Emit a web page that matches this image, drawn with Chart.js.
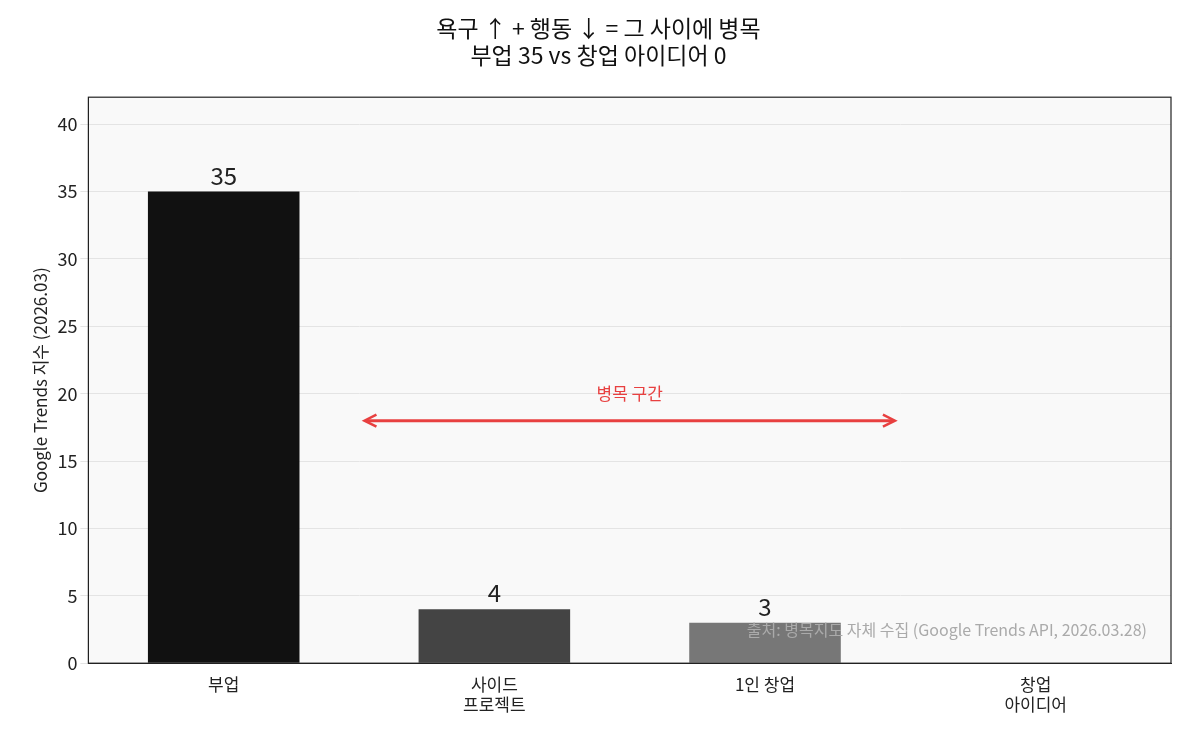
<!DOCTYPE html>
<html><head><meta charset="utf-8">
<script src="https://cdn.jsdelivr.net/npm/chart.js@4"></script>
<style>html,body{margin:0;background:#fff}#w{width:1185px;height:736px}</style>
</head><body><div id="w"><canvas id="c"></canvas></div>
<script>
const categories=[["부업"],["사이드","프로젝트"],["1인 창업"],["창업","아이디어"]];
const values=[35,4,3,0];
const barColors=["#111111","#444444","#777777","#aaaaaa"];
const yTicks=[0,5,10,15,20,25,30,35,40];
const titleLines=["욕구 ↑ + 행동 ↓ = 그 사이에 병목","부업 35 vs 창업 아이디어 0"];
const F="'Noto Sans CJK KR','Noto Sans',sans-serif";
const deco={id:'deco',
beforeDraw(ch){const a=ch.chartArea,c=ch.ctx;c.save();c.fillStyle='#f9f9f9';c.fillRect(a.left,a.top,a.right-a.left,a.bottom-a.top);c.restore();},
afterDatasetsDraw(ch){const c=ch.ctx,x=ch.scales.x,y=ch.scales.y,a=ch.chartArea;c.save();
c.strokeStyle='#222';c.lineWidth=1.2;c.strokeRect(a.left,a.top,a.right-a.left,a.bottom-a.top);
c.font='24px '+F;c.fillStyle='#222';c.textAlign='center';c.textBaseline='bottom';
ch.getDatasetMeta(0).data.forEach((b,i)=>{if(values[i]>0)c.fillText(String(values[i]),b.x,y.getPixelForValue(values[i])-4);});
const x1=x.getPixelForValue(0.52),x2=x.getPixelForValue(2.48),ay=y.getPixelForValue(18);
c.strokeStyle='#e84040';c.fillStyle='#e84040';c.lineWidth=3;c.beginPath();c.moveTo(x1+2,ay);c.lineTo(x2-2,ay);c.stroke();
c.lineWidth=2.5;c.beginPath();c.moveTo(x1+12,ay-6);c.lineTo(x1,ay);c.lineTo(x1+12,ay+6);c.stroke();
c.beginPath();c.moveTo(x2-12,ay-6);c.lineTo(x2,ay);c.lineTo(x2-12,ay+6);c.stroke();
c.font='17px '+F;c.textBaseline='middle';c.fillText('병목 구간',(x1+x2)/2,y.getPixelForValue(20));
c.font='16px '+F;c.fillStyle='#aaaaaa';c.textAlign='right';c.fillText('출처: 병목지도 자체 수집 (Google Trends API, 2026.03.28)',a.right-24,y.getPixelForValue(2.5));
c.restore();}};
new Chart(document.getElementById('c'),{type:'bar',
data:{labels:categories,datasets:[{data:values,backgroundColor:barColors,categoryPercentage:1,barPercentage:0.56}]},
options:{responsive:true,maintainAspectRatio:false,animation:false,
layout:{padding:{left:26,right:14,top:4,bottom:18}},
plugins:{legend:{display:false},tooltip:{enabled:false},
title:{display:true,text:titleLines,font:{family:F,size:23,weight:'normal'},color:'#111',padding:{top:10,bottom:28},lineHeight:1.3}},
scales:{x:{grid:{display:false},border:{color:'#222'},ticks:{color:'#222',font:{family:F,size:17}}},
y:{min:0,max:42,afterBuildTicks:s=>{s.ticks=yTicks.map(v=>({value:v}));},grid:{color:'#e4e4e4'},border:{color:'#222'},
ticks:{color:'#222',font:{family:F,size:18}},
title:{display:true,text:'Google Trends 지수 (2026.03)',font:{family:F,size:17},color:'#222'}}}},
plugins:[deco]});
</script></body></html>
